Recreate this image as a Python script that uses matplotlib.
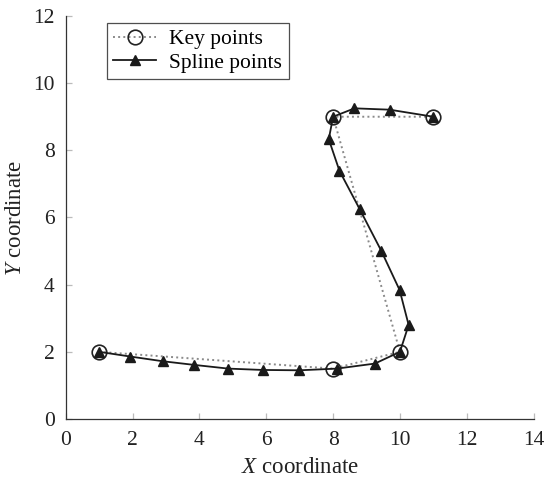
import matplotlib
matplotlib.use("Agg")
import matplotlib.pyplot as plt

# Control (key) points of the path
key_x = [1, 8, 10, 8, 11]
key_y = [2, 1.5, 2, 9, 9]

# Interpolated spline points
spline_x = [1.0, 1.93, 2.90, 3.85, 4.87, 5.90, 6.99, 8.11, 9.25, 10.0,
            10.26, 9.99, 9.44, 8.80, 8.19, 7.87, 8.0, 8.64, 9.69, 11.0]
spline_y = [2.0, 1.86, 1.72, 1.61, 1.50, 1.46, 1.45, 1.50, 1.65, 2.0,
            2.80, 3.84, 5.01, 6.24, 7.39, 8.33, 9.0, 9.25, 9.21, 9.0]

x_ticks = [0, 2, 4, 6, 8, 10, 12, 14]
y_ticks = [0, 2, 4, 6, 8, 10, 12]

plt.rcParams['font.family'] = ['Liberation Serif', 'DejaVu Serif']
plt.rcParams['mathtext.fontset'] = 'custom'
plt.rcParams['mathtext.it'] = 'Liberation Serif:italic'
plt.rcParams['mathtext.rm'] = 'Liberation Serif'

fig = plt.figure(figsize=(5.47, 4.84), dpi=100)
ax = fig.add_axes([0.1201, 0.1343, 0.8555, 0.8327])

ax.plot(key_x, key_y, linestyle=':', color='#8a8a8a', linewidth=1.4,
        marker='o', markersize=10.5, markerfacecolor='none',
        markeredgecolor='#222222', markeredgewidth=1.2, label='Key points', zorder=2)
ax.plot(spline_x, spline_y, linestyle='-', color='#1a1a1a', linewidth=1.3,
        marker='^', markersize=6.5, markerfacecolor='#1a1a1a',
        markeredgecolor='#1a1a1a', label='Spline points', zorder=3)

ax.set_xlim(0, 14)
ax.set_ylim(0, 12)
ax.set_xticks(x_ticks)
ax.set_yticks(y_ticks)

for s in ['top', 'right']:
    ax.spines[s].set_visible(False)
for s in ['left', 'bottom']:
    ax.spines[s].set_color('#333333')
    ax.spines[s].set_linewidth(0.9)

ax.tick_params(direction='in', length=4, width=0.9, color='#bbbbbb',
               labelsize=15.5, labelcolor='#222222')
ax.tick_params(axis='x', pad=9)
ax.tick_params(axis='y', pad=8)

ax.set_xlabel('$X$ coordinate', fontsize=16.5, color='#222222', labelpad=5)
ax.set_ylabel('$Y$ coordinate', fontsize=16.5, color='#222222', labelpad=5)

leg = ax.legend(loc='upper left', bbox_to_anchor=(0.088, 0.983), borderaxespad=0,
                fontsize=15.5, frameon=True, fancybox=False, handlelength=2.0,
                handletextpad=0.6, borderpad=0.3, labelspacing=0.15)
leg.get_frame().set_edgecolor('#222222')
leg.get_frame().set_linewidth(0.9)

fig.savefig('out.png', dpi=100)
